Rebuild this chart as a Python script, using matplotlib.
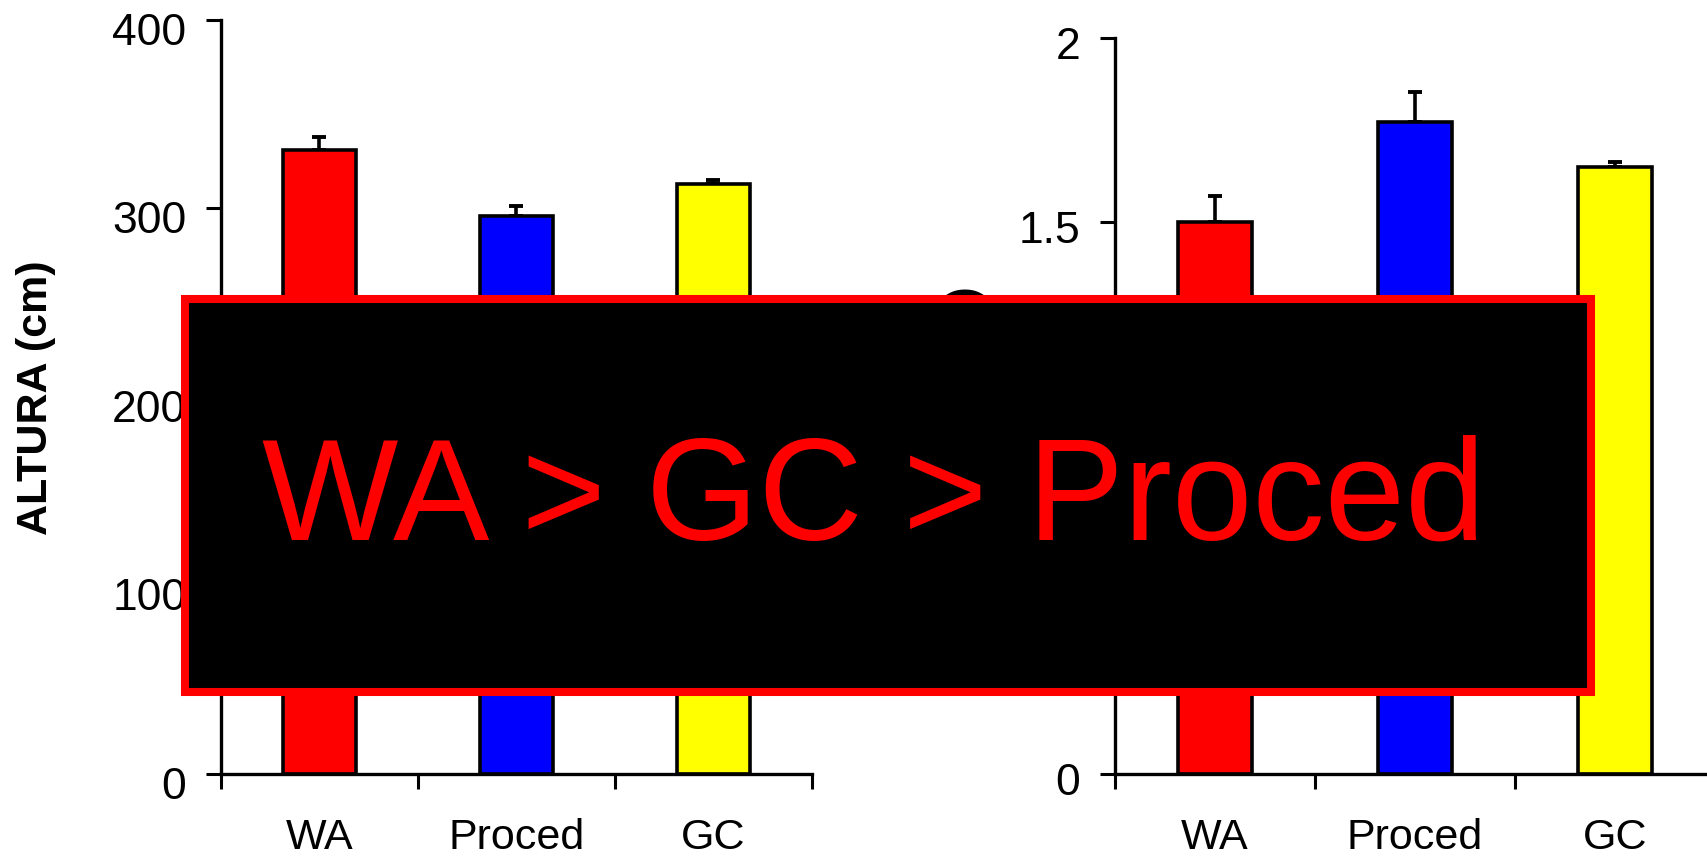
import matplotlib
matplotlib.use("Agg")
import matplotlib.pyplot as plt
from matplotlib.patches import Rectangle
from matplotlib.transforms import ScaledTranslation

categories = ["WA", "Proced", "GC"]
colors = ["#FF0000", "#0000FF", "#FFFF00"]
altura = [331, 296, 313]
altura_err = [6.5, 5, 2]
dap = [1.50, 1.772, 1.649]
dap_err = [0.071, 0.082, 0.014]
left_ticks = [0, 100, 200, 300, 400]
right_ticks = [0, 0.5, 1, 1.5, 2]
overlay_text = "WA > GC > Proced"

plt.rcParams['font.family'] = ['Liberation Sans', 'DejaVu Sans']

W, H = 1708, 857
fig = plt.figure(figsize=(W / 100, H / 100), dpi=100)

def setup(ax, vals, errs, ylim, ticks, yshift):
    x = [1, 2, 3]
    ax.bar(x, vals, width=0.37, color=colors, edgecolor='black', linewidth=2.6, zorder=2)
    ax.errorbar(x, vals, yerr=[[0] * 3, errs], fmt='none', ecolor='black',
                elinewidth=2.6, capsize=4.8, capthick=2.8, zorder=1)
    ax.set_xlim(0.5, 3.5)
    ax.set_ylim(*ylim)
    ax.set_yticks(ticks)
    ax.set_yticklabels([f"{t:g}" for t in ticks])
    ax.set_xticks([0.5, 1.5, 2.5, 3.5])
    ax.set_xticklabels([])
    ax.set_xticks([1, 2, 3], minor=True)
    ax.set_xticklabels(categories, minor=True)
    ax.tick_params(axis='x', which='minor', length=0, pad=32, labelsize=31)
    ax.tick_params(axis='x', which='major', length=11, width=2.2, direction='out')
    ax.tick_params(axis='y', length=11, width=2.2, direction='out', pad=14, labelsize=32)
    for s in ['top', 'right']:
        ax.spines[s].set_visible(False)
    for s in ['left', 'bottom']:
        ax.spines[s].set_linewidth(2.4)
    ax.set_facecolor('none')
    off = ScaledTranslation(0, -yshift / 100, fig.dpi_scale_trans)
    for lab in ax.get_yticklabels():
        lab.set_transform(lab.get_transform() + off)

ax1 = fig.add_axes([221 / W, 1 - 774 / H, (812 - 221) / W, (774 - 19.6) / H])
setup(ax1, altura, altura_err, (0, 400), left_ticks, 9)
ax2 = fig.add_axes([1115 / W, 1 - 774 / H, (1715 - 1115) / W, (774 - 38) / H])
setup(ax2, dap, dap_err, (0, 2), right_ticks, 5)

fig.text(36 / W, 1 - 398 / H, "ALTURA (cm)", rotation=90, ha='center', va='center',
         fontsize=31, fontweight='bold')
fig.text(966 / W, 1 - 383 / H, "DAP (cm)", rotation=90, ha='center', va='center',
         fontsize=31, fontweight='bold')

rect = Rectangle((185 / W, 1 - 692 / H), (1591 - 185) / W, (692 - 299) / H,
                 transform=fig.transFigure, facecolor='black', edgecolor='#FF0000',
                 linewidth=5.8, zorder=10)
fig.add_artist(rect)
fig.text(874 / W, 1 - 540 / H, overlay_text, ha='center', va='baseline', color='#FF0000',
         fontsize=104, zorder=11)

fig.savefig("out.png", dpi=100)
